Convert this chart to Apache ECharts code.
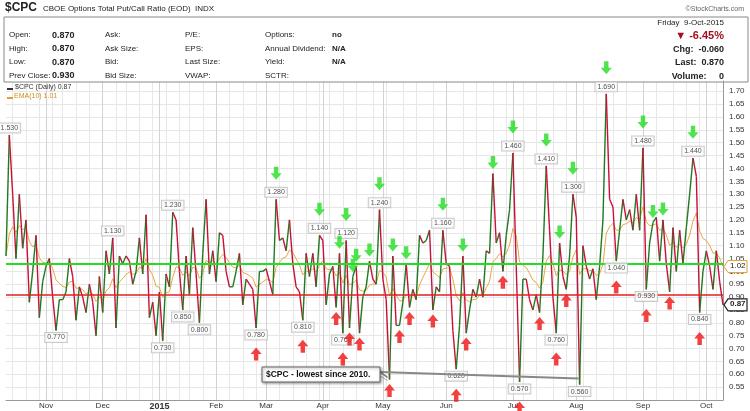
<!DOCTYPE html>
<html>
<head>
<meta charset="utf-8">
<script src="https://cdn.jsdelivr.net/npm/echarts@6/dist/echarts.min.js"></script>
<style>
html,body{margin:0;padding:0;background:#fff;}
#chart{width:750px;height:411px;}
</style>
</head>
<body>
<div id="chart"></div>
<script>
// $CPC daily closes: Oct 10 2014 -> Apr 19 2015
var valuesA = [1.06,1.53,1.30,1.05,1.30,1.09,1.20,0.88,1.00,1.14,0.82,0.96,1.02,1.05,0.90,0.77,0.89,0.89,0.92,1.05,
    0.98,0.81,0.94,0.90,0.84,0.95,0.88,0.75,0.98,0.84,1.08,0.99,1.13,0.78,1.06,1.03,1.06,1.04,0.95,1.00,
    1.13,0.99,1.22,0.82,0.88,0.75,0.92,0.73,0.99,0.94,1.23,1.20,1.00,0.85,1.06,0.91,1.17,0.99,0.80,1.07,
    1.28,0.99,1.08,0.96,1.15,1.14,1.00,0.94,0.94,1.00,1.07,0.87,0.97,0.95,0.93,0.78,1.00,1.00,1.01,0.96,
    0.91,1.28,1.12,1.13,1.08,1.20,1.03,0.94,0.92,0.81,1.07,0.98,1.07,0.94,1.14,1.12,0.87,0.99,1.02,0.86,
    1.07,0.76,1.12,0.78,0.98];
// Apr 20 2015 -> Oct 9 2015
var valuesB = [1.02,0.76,0.90,0.94,1.04,0.97,0.95,1.24,0.97,0.89,0.58,1.06,0.79,0.79,0.88,1.03,0.86,0.93,0.89,1.14,
    1.11,1.12,1.16,0.85,0.94,0.92,1.16,1.03,1.02,0.77,0.62,0.79,1.06,0.76,0.85,0.93,0.90,0.97,0.90,1.08,
    1.07,1.38,1.11,1.15,1.00,1.14,1.24,1.46,1.02,0.57,0.97,0.97,0.89,0.85,0.91,0.84,1.06,1.41,1.16,0.90,
    0.76,1.11,0.98,0.93,1.06,1.30,1.21,0.56,1.10,1.02,0.97,1.01,0.89,1.02,1.20,1.69,1.28,1.25,1.04,1.16,
    1.28,1.20,1.24,1.16,1.30,1.16,1.48,0.93,1.11,1.19,1.21,1.04,1.20,1.03,0.92,1.17,1.00,1.16,1.03,1.17,
    1.30,1.44,1.37,0.84,1.00,1.08,1.02,0.93,1.08,0.96,0.87];
var spanA = ['2014-10-10', '2015-04-19'];
var spanB = ['2015-04-20', '2015-10-09'];

// annotated points (index into the combined series)
var peakLabels = [1, 32, 50, 81, 94, 102, 112, 131, 152, 162, 170, 180, 191, 206];
var lowLabels = [15, 47, 53, 58, 75, 89, 101, 135, 154, 165, 172, 183, 192, 208];
var greenArrows = [81, 94, 100, 102, 104, 105, 109, 112, 116, 120, 131, 137, 146, 152, 162, 166, 170, 180, 191, 194, 197, 206];
var redArrows = [75, 89, 99, 101, 103, 106, 115, 118, 121, 128, 135, 138, 149, 154, 160, 165, 168, 183, 192, 199, 208];

var greenLevel = 1.033, redLevel = 0.911;
var monthNames = ['2015','Feb','Mar','Apr','May','Jun','Jul','Aug','Sep','Oct','Nov','Dec'];

function spanDates(span, n) {
    var t0 = Date.parse(span[0]), t1 = Date.parse(span[1]);
    var out = [];
    for (var i = 0; i < n; i++) out.push(new Date(t0 + (t1 - t0) * i / (n - 1)));
    return out;
}
var dates = spanDates(spanA, valuesA.length).concat(spanDates(spanB, valuesB.length));
var values = valuesA.concat(valuesB);
var cats = dates.map(function (d) { return d.toISOString().slice(0, 10); });

// EMA(10)
var ema = [], k = 2 / 11;
values.forEach(function (v, i) { ema.push(i === 0 ? v : +(v * k + ema[i - 1] * (1 - k)).toFixed(4)); });

function isMonthStart(i) { return i > 0 && dates[i].getUTCMonth() !== dates[i - 1].getUTCMonth(); }
function weekOf(d) { return Math.floor((d.getTime() / 86400000 + 3) / 7); }
function isWeekStart(i) { return i > 0 && weekOf(dates[i]) !== weekOf(dates[i - 1]); }

var segs = [];
for (var i = 1; i < values.length; i++) segs.push([i, values[i - 1], values[i]]);

var arrowDown = 'path://M3,0 L7,0 L7,5 L10,5 L5,10 L0,5 L3,5 Z';
var arrowUp = 'path://M5,0 L10,5 L7,5 L7,10 L3,10 L3,5 L0,5 Z';

function pts(list) { return list.map(function (i) { return [i, values[i]]; }); }
function hasLabel(i, list) { return list.indexOf(i) >= 0; }

var chart = echarts.init(document.getElementById('chart'));
var font = 'Liberation Sans, Arial, sans-serif';

function txt(x, y, s, opt) {
    opt = opt || {};
    return {type: 'text', left: x, top: y, style: {text: s, fill: opt.fill || '#222', font: (opt.bold ? 'bold ' : '') + (opt.size || 8) + 'px ' + font, textAlign: opt.align || 'left'}};
}
var hdr = [
    {type: 'rect', shape: {x: 4, y: 17, width: 744, height: 65}, style: {fill: '#fff', stroke: '#888', lineWidth: 1}},
    txt(5, 2, '$CPC', {bold: true, size: 12}),
    txt(43, 5, 'CBOE Options Total Put/Call Ratio (EOD)  INDX', {size: 8}),
    {type: 'text', right: 6, top: 6, style: {text: '©StockCharts.com', fill: '#666', font: '7px ' + font}}
];
var rows = [['Open:', '0.870', 'Ask:', 'P/E:', 'Options:', 'no'],
            ['High:', '0.870', 'Ask Size:', 'EPS:', 'Annual Dividend:', 'N/A'],
            ['Low:', '0.870', 'Bid:', 'Last Size:', 'Yield:', 'N/A'],
            ['Prev Close:', '0.930', 'Bid Size:', 'VWAP:', 'SCTR:', '']];
rows.forEach(function (r, j) {
    var y = 31 + j * 13.5;
    hdr.push(txt(9, y, r[0]), txt(52, y, r[1], {bold: true, size: 9}), txt(105, y, r[2]),
             txt(185, y, r[3]), txt(265, y, r[4]), txt(332, y, r[5], {bold: true}));
});
[['Friday  9-Oct-2015', 19, {size: 8}], ['▼ -6.45%', 30, {bold: true, size: 11, fill: '#a01020'}],
 ['Chg:  -0.060', 45, {bold: true, size: 9}], ['Last:  0.870', 58.5, {bold: true, size: 9}],
 ['Volume:     0', 72, {bold: true, size: 9}]].forEach(function (r) {
    hdr.push({type: 'text', right: 26, top: r[1], style: {text: r[0], fill: r[2].fill || '#222', font: (r[2].bold ? 'bold ' : '') + r[2].size + 'px ' + font}});
});
hdr.push(
    {type: 'rect', shape: {x: 7, y: 88, width: 6, height: 2}, style: {fill: '#333'}},
    txt(15, 84, '$CPC (Daily) 0.87', {size: 7, fill: '#333'}),
    {type: 'rect', shape: {x: 7, y: 97, width: 6, height: 2}, style: {fill: '#e0a030'}},
    txt(14, 93, 'EMA(10) 1.01', {size: 7, fill: '#d09020'})
);

chart.setOption({
    animation: false,
    textStyle: {fontFamily: font},
    grid: {left: 6, right: 27, top: 81, bottom: 11},
    xAxis: [{
        type: 'category', data: cats, boundaryGap: false,
        axisLine: {lineStyle: {color: '#999'}}, axisTick: {show: false},
        axisLabel: {
            interval: function (i) { return isMonthStart(i); }, margin: 2, fontSize: 8, color: '#333',
            formatter: function (v) { var m = +v.slice(5, 7) - 1; return m === 0 ? '{b|2015}' : monthNames[m]; },
            rich: {b: {fontWeight: 'bold', fontSize: 9}}
        },
        splitLine: {show: true, interval: function (i) { return isWeekStart(i); }, lineStyle: {color: '#e8e8e8', width: 1}}
    }, {
        type: 'category', data: cats, boundaryGap: false, show: true,
        axisLine: {show: false}, axisTick: {show: false}, axisLabel: {show: false},
        splitLine: {show: true, interval: function (i) { return isMonthStart(i); }, lineStyle: {color: '#d2d2d2'}}
    }],
    yAxis: {
        type: 'value', position: 'right', min: 0.5, max: 1.74, interval: 0.05,
        axisLine: {show: true, lineStyle: {color: '#999'}}, axisTick: {show: false},
        axisLabel: {fontSize: 8, color: '#333', margin: 6, showMaxLabel: false,
            formatter: function (v) { return v < 0.54 ? '' : v.toFixed(2); }},
        splitLine: {lineStyle: {color: '#e6e6e6'}}
    },
    graphic: hdr,
    series: [
        {type: 'line', data: ema, symbol: 'none', lineStyle: {color: '#e8a640', width: 1}, z: 2,
         markLine: {silent: true, symbol: 'none', label: {show: false},
            data: [{yAxis: greenLevel, lineStyle: {color: '#22dd22', width: 2, type: 'solid'}},
                   {yAxis: redLevel, lineStyle: {color: '#e02020', width: 1.5, type: 'solid'}}]}},
        {type: 'custom', data: segs, z: 3,
         renderItem: function (params, api) {
            var a = api.coord([api.value(0) - 1, api.value(1)]);
            var b = api.coord([api.value(0), api.value(2)]);
            return {type: 'line', shape: {x1: a[0], y1: a[1], x2: b[0], y2: b[1]},
                    style: {stroke: api.value(2) >= api.value(1) ? '#1f7a1f' : '#c8103a', lineWidth: 1.4}};
         }},
        {type: 'scatter', data: pts(peakLabels), symbolSize: 1, itemStyle: {color: 'transparent'}, z: 5,
         label: {show: true, position: 'top', distance: 2, formatter: function (p) { return p.value[1].toFixed(3); },
            fontSize: 7, color: '#222', backgroundColor: '#fff', borderColor: '#bbb', borderWidth: 1, padding: [1, 2]}},
        {type: 'scatter', data: pts(lowLabels), symbolSize: 1, itemStyle: {color: 'transparent'}, z: 5,
         label: {show: true, position: 'bottom', distance: 2, formatter: function (p) { return p.value[1].toFixed(3); },
            fontSize: 7, color: '#222', backgroundColor: '#fff', borderColor: '#bbb', borderWidth: 1, padding: [1, 2]}},
        {type: 'scatter', z: 6, symbol: arrowDown, symbolSize: [11, 13], itemStyle: {color: '#22dd22'},
         data: greenArrows.map(function (i) {
            return {value: [i, values[i]], symbolOffset: [0, hasLabel(i, peakLabels) ? -26 : -11]}; })},
        {type: 'scatter', z: 6, symbol: arrowUp, symbolSize: [11, 13], itemStyle: {color: '#ee1111'},
         data: redArrows.map(function (i) {
            return {value: [i, values[i]], symbolOffset: [0, hasLabel(i, lowLabels) ? 26 : 11]}; })}
    ]
});

// right-axis value tags and the annotation callout
var pEma = chart.convertToPixel({seriesIndex: 0}, [values.length - 1, ema[ema.length - 1]]);
var pLast = chart.convertToPixel({seriesIndex: 0}, [values.length - 1, values[values.length - 1]]);
var pMay = chart.convertToPixel({seriesIndex: 0}, [valuesA.length + 10, values[valuesA.length + 10]]);
var pAug = chart.convertToPixel({seriesIndex: 0}, [valuesA.length + 67, values[valuesA.length + 67]]);
var bx = 262, by = 367, bw = 118, bh = 15;
chart.setOption({graphic: hdr.concat([
    {type: 'polygon', z: 10, shape: {points: [[724, pEma[1]], [728, pEma[1] - 6], [747, pEma[1] - 6], [747, pEma[1] + 6], [728, pEma[1] + 6]]},
     style: {fill: '#fff', stroke: '#e0a030'}},
    {type: 'text', z: 11, left: 730, top: pEma[1] - 5, style: {text: (+ema[ema.length - 1]).toFixed(2), font: '8px ' + font, fill: '#222'}},
    {type: 'polygon', z: 10, shape: {points: [[724, pLast[1]], [728, pLast[1] - 6], [747, pLast[1] - 6], [747, pLast[1] + 6], [728, pLast[1] + 6]]},
     style: {fill: '#fff', stroke: '#222', lineWidth: 1.2}},
    {type: 'text', z: 11, left: 730, top: pLast[1] - 5, style: {text: values[values.length - 1].toFixed(2), font: 'bold 8px ' + font, fill: '#222'}},
    {type: 'polyline', z: 9, shape: {points: [[bx + bw, by + 5], [pMay[0] - 2, pMay[1] - 2]]}, style: {stroke: '#777', lineWidth: 1.5}},
    {type: 'polyline', z: 9, shape: {points: [[bx + bw, by + 9], [pMay[0] - 2, pMay[1] + 1]]}, style: {stroke: '#aaa', lineWidth: 1}},
    {type: 'polyline', z: 9, shape: {points: [[bx + bw, by + 5], [pAug[0] - 1, pAug[1] - 6]]}, style: {stroke: '#888', lineWidth: 2}},
    {type: 'rect', z: 10, shape: {x: bx, y: by, width: bw, height: bh}, style: {fill: '#fff', stroke: '#666', lineWidth: 1, shadowBlur: 3, shadowColor: 'rgba(0,0,0,0.4)', shadowOffsetX: 1, shadowOffsetY: 1}},
    {type: 'text', z: 11, left: bx + 4, top: by + 3, style: {text: '$CPC - lowest since 2010.', font: 'bold 8.5px ' + font, fill: '#111'}}
])}, {replaceMerge: ['graphic']});
</script>
</body>
</html>
